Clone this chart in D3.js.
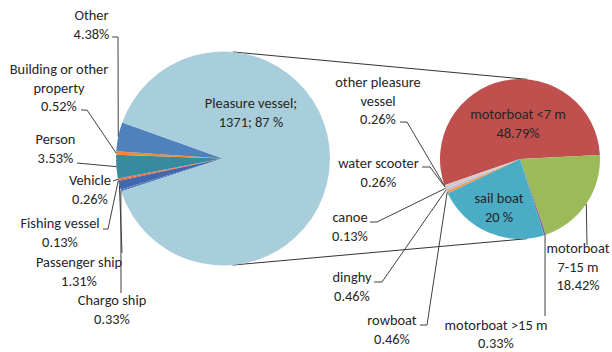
<!DOCTYPE html>
<html>
<head>
<meta charset="utf-8">
<title>Pie of pie</title>
<style>
body { margin: 0; background: #fff; }
svg { font-family: Carlito, Calibri, Lato, sans-serif; font-size: 14.4px; }
.leader { fill: none; stroke: #404040; stroke-width: 1; }
.connector { stroke: #333; stroke-width: 1; }
text { fill: #262626; }
</style>
</head>
<body>
<svg id="chart" width="612" height="352"></svg>
<script src="https://cdn.jsdelivr.net/npm/d3@7"></script>
<script>

// first pie, clockwise from lower left (Pleasure vessel = aggregated slice)
var mainCats = ["Chargo ship", "Passenger ship", "Fishing vessel", "Vehicle", "Person", "Building or other property", "Other", "Pleasure vessel"];
var mainValues = [5, 20, 2, 4, 54, 8, 67, 1371];
var mainLabels = [
  ["Chargo ship", "0.33%"],
  ["Passenger ship", "1.31%"],
  ["Fishing vessel", "0.13%"],
  ["Vehicle", "0.26%"],
  ["Person", "3.53%"],
  ["Building or other", "property", "0.52%"],
  ["Other", "4.38%"],
  ["Pleasure vessel;", "1371; 87 %"]
];
var mainColors = ["#5a7fc0", "#4068ae", "#c0504d", "#e8743c", "#378ba0", "#f0883a", "#4f81bd", "#a8cedb"];

// second pie: breakdown of pleasure vessels
var subCats = ["motorboat <7 m", "motorboat 7-15 m", "motorboat >15 m", "sail boat", "rowboat", "dinghy", "canoe", "water scooter", "other pleasure vessel"];
var subValues = [747, 282, 5, 313, 7, 7, 2, 4, 4];
var subLabels = [
  ["motorboat <7 m", "48.79%"],
  ["motorboat", "7-15 m", "18.42%"],
  ["motorboat >15 m", "0.33%"],
  ["sail boat", "20 %"],
  ["rowboat", "0.46%"],
  ["dinghy", "0.46%"],
  ["canoe", "0.13%"],
  ["water scooter", "0.26%"],
  ["other pleasure", "vessel", "0.26%"]
];
var subColors = ["#c0504d", "#9bbb59", "#8064a2", "#4bacc6", "#f79646", "#c4bdd2", "#d9d9d9", "#bfbfbf", "#d6c4c4"];

// label layout: text anchor (first baseline), line gap and leader start points
var mainLabelPos = [
  {x: 112, y: 305, lead: [[121, 293]]},
  {x: 79, y: 267, lead: [[122, 253]]},
  {x: 60, y: 228, lead: [[103, 229], [108, 229]]},
  {x: 90, y: 185, lead: [[113, 181]]},
  {x: 55.5, y: 144, lead: [[77, 163]]},
  {x: 59, y: 74, lead: [[81, 110], [87, 110]]},
  {x: 91.5, y: 20, lead: [[112, 37], [118, 37]]},
  {x: 251, y: 108, lead: null}
];
var subLabelPos = [
  {x: 518, y: 119, lead: null},
  {x: 578, y: 253, lead: [[587, 245]]},
  {x: 496, y: 330, gap: 17.5, lead: [[545, 316]]},
  {x: 499, y: 203, lead: null},
  {x: 392, y: 325, lead: [[420, 325], [427, 325]]},
  {x: 352, y: 282, lead: [[374, 282], [382, 282]]},
  {x: 350, y: 222, lead: [[370, 222], [377, 222]]},
  {x: 378.5, y: 168, lead: [[422, 167], [430, 167]]},
  {x: 378, y: 87, lead: [[400, 122], [407, 122]]}
];

var lineH = 18.5;
var deg = Math.PI / 180;

var p1 = {cx: 223, cy: 158.5, r: 107, start: 252};
var p2 = {cx: 520, cy: 159, r: 80, start: -109.1};

var svg = d3.select("#chart");

function onArc(p, a) {
  return [p.cx + p.r * Math.sin(a), p.cy - p.r * Math.cos(a)];
}

function drawPie(p, values, colors, labels, pos) {
  var pie = d3.pie().sort(null)
      .startAngle(p.start * deg)
      .endAngle(p.start * deg + 2 * Math.PI);
  var arcs = pie(values);
  var arc = d3.arc().innerRadius(0).outerRadius(p.r);

  var g = svg.append("g").attr("transform", "translate(" + p.cx + "," + p.cy + ")");
  g.selectAll("path")
    .data(arcs)
    .enter().append("path")
      .attr("d", arc)
      .attr("fill", function(d, i) { return colors[i]; });

  var line = d3.line();
  arcs.forEach(function(d, i) {
    var lp = pos[i];
    if (lp.lead) {
      var pts = lp.lead.concat([onArc(p, (d.startAngle + d.endAngle) / 2)]);
      svg.append("path").attr("class", "leader").attr("d", line(pts));
    }
    var gap = lp.gap || lineH;
    var t = svg.append("text")
        .attr("text-anchor", "middle")
        .attr("x", lp.x)
        .attr("y", lp.y);
    labels[i].forEach(function(s, k) {
      t.append("tspan").attr("x", lp.x).attr("y", lp.y + k * gap).text(s);
    });
  });
}

// external tangents between the two pies
function tangents(a, b) {
  var dx = b.cx - a.cx, dy = b.cy - a.cy, D = Math.hypot(dx, dy);
  var ux = dx / D, uy = dy / D;
  var s = (a.r - b.r) / D, c = Math.sqrt(1 - s * s);
  return [[uy, -ux], [-uy, ux]].map(function(pp) {
    var nx = s * ux + c * pp[0], ny = s * uy + c * pp[1];
    return [[a.cx + a.r * nx, a.cy + a.r * ny], [b.cx + b.r * nx, b.cy + b.r * ny]];
  });
}

tangents(p1, p2).forEach(function(seg) {
  svg.append("line").attr("class", "connector")
    .attr("x1", seg[0][0]).attr("y1", seg[0][1])
    .attr("x2", seg[1][0]).attr("y2", seg[1][1]);
});

drawPie(p1, mainValues, mainColors, mainLabels, mainLabelPos);
drawPie(p2, subValues, subColors, subLabels, subLabelPos);

</script>
</body>
</html>
